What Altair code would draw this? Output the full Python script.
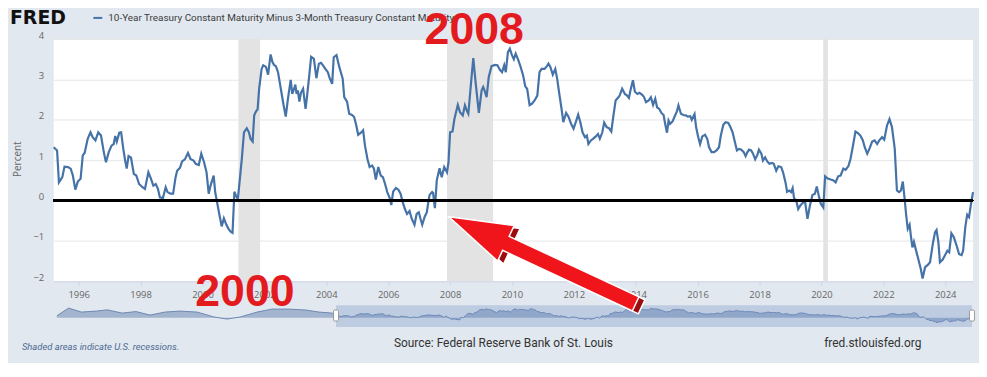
import altair as alt
import pandas as pd

# ---- main series: decimal year, 10Y minus 3M spread (percent) ----
years = [
    1995.19, 1995.30, 1995.36, 1995.47, 1995.54, 1995.65, 1995.74, 1995.81, 1995.89, 1995.97,
    1996.06, 1996.13, 1996.19, 1996.29, 1996.38, 1996.45, 1996.54, 1996.63, 1996.72, 1996.81,
    1996.88, 1996.97, 1997.06, 1997.13, 1997.18, 1997.23, 1997.31, 1997.37, 1997.44, 1997.50,
    1997.55, 1997.61, 1997.69, 1997.78, 1997.86, 1997.95, 1998.06, 1998.14, 1998.25, 1998.33,
    1998.41, 1998.49, 1998.56, 1998.62, 1998.72, 1998.81, 1998.87, 1998.96, 1999.05, 1999.13,
    1999.18, 1999.27, 1999.34, 1999.43, 1999.53, 1999.61, 1999.71, 1999.78, 1999.88, 1999.96,
    2000.05, 2000.13, 2000.20, 2000.26, 2000.36, 2000.41, 2000.47, 2000.55, 2000.62, 2000.69,
    2000.76, 2000.84, 2000.91, 2000.97, 2001.03, 2001.08, 2001.14,
    2001.16, 2001.27, 2001.34, 2001.43, 2001.50, 2001.55, 2001.62, 2001.67, 2001.73, 2001.78,
    2001.83, 2001.91, 2001.96, 2002.05, 2002.12, 2002.20, 2002.26, 2002.31, 2002.37, 2002.44,
    2002.53, 2002.62, 2002.69, 2002.76, 2002.85, 2002.90, 2002.96, 2003.00, 2003.04, 2003.08,
    2003.13, 2003.18, 2003.25, 2003.33, 2003.38, 2003.45, 2003.51, 2003.60, 2003.68, 2003.76,
    2003.83, 2003.91, 2003.97, 2004.05, 2004.11, 2004.19, 2004.24, 2004.33, 2004.42, 2004.53,
    2004.58, 2004.67, 2004.74, 2004.83, 2004.90, 2004.97, 2005.03, 2005.12, 2005.19, 2005.25,
    2005.33, 2005.40, 2005.48, 2005.54, 2005.60, 2005.68, 2005.76, 2005.83, 2005.90, 2005.97,
    2006.05, 2006.10, 2006.16, 2006.25, 2006.33, 2006.40, 2006.47, 2006.54, 2006.61, 2006.69,
    2006.76, 2006.85, 2006.92, 2006.99, 2007.04, 2007.10, 2007.18, 2007.25, 2007.30, 2007.34,
    2007.42, 2007.45, 2007.51, 2007.57, 2007.66, 2007.73, 2007.81, 2007.90, 2007.95, 2008.00,
    2008.08, 2008.14, 2008.25, 2008.32, 2008.41, 2008.48, 2008.54, 2008.59, 2008.67, 2008.75,
    2008.83, 2008.93, 2009.02, 2009.07, 2009.13, 2009.18, 2009.25, 2009.34, 2009.45, 2009.53,
    2009.61, 2009.68, 2009.75, 2009.80, 2009.87, 2009.93, 2010.00, 2010.06, 2010.12, 2010.19,
    2010.28, 2010.36, 2010.43, 2010.49, 2010.57, 2010.65, 2010.73, 2010.82, 2010.89, 2010.96,
    2011.05, 2011.13, 2011.18, 2011.24, 2011.32, 2011.40, 2011.46, 2011.53, 2011.61, 2011.66,
    2011.75, 2011.83, 2011.91, 2011.99, 2012.07, 2012.14, 2012.21, 2012.28, 2012.36, 2012.42,
    2012.47, 2012.55, 2012.62, 2012.71, 2012.78, 2012.84, 2012.92, 2012.98, 2013.06, 2013.14,
    2013.21, 2013.28, 2013.35, 2013.44,
    2013.48, 2013.56, 2013.65, 2013.72, 2013.78, 2013.83, 2013.91, 2013.97, 2014.05, 2014.12,
    2014.21, 2014.27, 2014.33, 2014.42, 2014.49, 2014.56, 2014.63, 2014.69, 2014.76, 2014.83,
    2014.90, 2014.95, 2015.01, 2015.06, 2015.11, 2015.19, 2015.25, 2015.33, 2015.38, 2015.46,
    2015.54, 2015.62, 2015.68, 2015.76, 2015.81, 2015.90, 2015.95, 2016.02, 2016.08, 2016.15,
    2016.24, 2016.31, 2016.37, 2016.45, 2016.53, 2016.61, 2016.69, 2016.75, 2016.83, 2016.90,
    2016.99, 2017.06, 2017.13, 2017.20, 2017.27, 2017.34, 2017.41, 2017.49, 2017.55, 2017.61,
    2017.66, 2017.73, 2017.79, 2017.86, 2017.93, 2017.98, 2018.06, 2018.11, 2018.18, 2018.25,
    2018.32, 2018.40, 2018.46, 2018.54, 2018.61, 2018.70, 2018.76, 2018.84, 2018.89, 2018.96,
    2019.02, 2019.07, 2019.12,
    2019.18, 2019.25, 2019.32, 2019.39, 2019.47, 2019.55, 2019.63, 2019.71, 2019.79, 2019.85,
    2019.91, 2019.98, 2020.06, 2020.12, 2020.19, 2020.30, 2020.39, 2020.46, 2020.54, 2020.62,
    2020.71, 2020.78, 2020.87, 2020.94, 2021.03, 2021.10, 2021.18, 2021.26, 2021.34, 2021.40,
    2021.48, 2021.55, 2021.64, 2021.72, 2021.80, 2021.87, 2021.96, 2022.03, 2022.12, 2022.20,
    2022.28, 2022.37, 2022.44, 2022.51, 2022.57, 2022.63, 2022.69, 2022.74, 2022.79, 2022.85,
    2022.89, 2022.94, 2022.99, 2023.06, 2023.13, 2023.21, 2023.27, 2023.35, 2023.43, 2023.51,
    2023.60, 2023.67, 2023.72, 2023.78, 2023.83, 2023.92, 2023.99, 2024.07, 2024.13, 2024.20,
    2024.28, 2024.37, 2024.45, 2024.53, 2024.58, 2024.65, 2024.71, 2024.77, 2024.85, 2024.90,
]
spread = [
    1.32, 1.24, 0.45, 0.58, 0.84, 0.83, 0.79, 0.62, 0.27, 0.47,
    0.54, 1.12, 1.18, 1.53, 1.69, 1.57, 1.49, 1.69, 1.61, 1.20,
    0.95, 1.20, 1.36, 1.40, 1.60, 1.46, 1.68, 1.69, 1.28, 0.99,
    0.79, 1.10, 1.06, 0.66, 0.62, 0.41, 0.33, 0.29, 0.70, 0.55,
    0.37, 0.41, 0.29, 0.08, 0.06, 0.33, 0.21, 0.17, 0.17, 0.58,
    0.74, 0.81, 0.97, 1.02, 1.18, 1.03, 0.99, 0.91, 0.88, 1.16,
    0.95, 0.70, 0.17, 0.37, 0.62, 0.21, -0.04, -0.37, -0.64, -0.44,
    -0.58, -0.70, -0.77, -0.80, 0.22, 0.12, 0.04,
    0.17, 1.03, 1.69, 1.79, 1.69, 1.53, 1.46, 2.11, 2.21, 2.26,
    2.77, 3.26, 3.35, 3.31, 3.12, 3.62, 3.43, 3.36, 3.33, 3.18,
    2.77, 2.36, 2.08, 2.52, 2.99, 2.64, 2.77, 2.87, 2.64, 2.73,
    2.45, 2.67, 2.77, 2.27, 2.60, 3.10, 3.56, 3.51, 3.03, 3.39,
    3.41, 3.33, 3.26, 3.18, 3.03, 2.89, 3.55, 3.60, 3.31, 3.02,
    2.56, 2.45, 2.15, 2.12, 2.07, 1.86, 1.63, 1.68, 1.74, 1.36,
    1.03, 0.83, 0.87, 0.79, 0.52, 0.83, 0.62, 0.58, 0.41, 0.21,
    0.06, -0.11, 0.22, 0.31, 0.27, 0.17, -0.04, -0.21, -0.33, -0.26,
    -0.45, -0.60, -0.33, -0.29, -0.44, -0.60, -0.40, -0.29, -0.02, 0.14,
    0.21, 0.19, -0.19, 0.50, 0.80, 0.58, 0.83, 0.70, 0.95, 1.69,
    1.71, 2.02, 2.37, 2.19, 2.11, 2.36, 2.23, 2.15, 2.85, 3.53,
    2.89, 2.17, 2.73, 2.81, 2.69, 2.56, 3.06, 3.33, 3.36, 3.35,
    3.24, 3.18, 3.35, 3.18, 3.68, 3.76, 3.60, 3.50, 3.64, 3.51,
    3.31, 3.10, 2.83, 2.77, 2.36, 2.40, 2.48, 2.60, 3.18, 3.26,
    3.26, 3.33, 3.39, 3.31, 3.12, 3.26, 3.02, 2.64, 2.23, 1.94,
    2.17, 2.07, 1.90, 1.78, 1.96, 2.13, 1.94, 1.69, 1.57, 1.61,
    1.40, 1.49, 1.53, 1.59, 1.65, 1.53, 1.69, 1.93, 1.82, 1.79,
    1.71, 2.11, 2.48, 2.56,
    2.60, 2.77, 2.64, 2.60, 2.54, 2.73, 2.98, 2.70, 2.64, 2.67,
    2.62, 2.56, 2.44, 2.48, 2.56, 2.37, 2.52, 2.31, 2.27, 2.17,
    2.12, 1.90, 1.68, 1.98, 1.90, 1.96, 2.07, 2.21, 2.36, 2.15,
    2.12, 2.11, 2.08, 2.09, 2.00, 2.14, 1.82, 1.57, 1.40, 1.59,
    1.63, 1.53, 1.32, 1.20, 1.20, 1.24, 1.32, 1.61, 1.88, 1.94,
    1.92, 1.82, 1.69, 1.46, 1.24, 1.28, 1.26, 1.20, 1.10, 1.20,
    1.26, 1.24, 1.16, 1.02, 1.13, 1.26, 1.16, 0.99, 1.07, 0.97,
    0.91, 0.93, 0.91, 0.74, 0.85, 0.83, 0.70, 0.45, 0.22, 0.25,
    0.21, 0.31, 0.04,
    0.02, -0.21, -0.12, -0.06, -0.02, -0.45, -0.12, 0.14, 0.17, 0.35,
    0.14, -0.08, -0.17, 0.60, 0.55, 0.52, 0.50, 0.45, 0.60, 0.62,
    0.79, 0.76, 0.85, 1.03, 1.40, 1.71, 1.67, 1.61, 1.49, 1.32,
    1.16, 1.28, 1.46, 1.49, 1.40, 1.49, 1.57, 1.51, 1.86, 2.02,
    1.82, 1.28, 0.25, 0.21, 0.25, 0.47, 0.04, -0.37, -0.70, -0.60,
    -0.87, -1.16, -1.02, -1.24, -1.45, -1.69, -1.93, -1.65, -1.60, -1.53,
    -1.07, -0.79, -0.73, -1.03, -1.53, -1.46, -1.36, -1.24, -1.28, -0.81,
    -0.91, -1.12, -1.33, -1.35, -1.24, -0.66, -0.35, -0.41, 0.00, 0.21,
]

# ---- navigator: earlier history (1982-1995) ----
nav_early_years = [1982.15, 1982.70, 1983.30, 1984.00, 1984.50, 1985.20, 1985.85, 1986.50,
                   1987.20, 1987.90, 1988.70, 1989.50, 1990.10, 1990.70, 1991.50, 1992.20,
                   1993.00, 1993.80, 1994.40, 1995.00]
nav_early_vals = [0.8, 3.9, 2.3, 2.7, 3.2, 1.9, 2.5, 1.1,
                  2.3, 2.7, 2.3, 0.3, -0.5, 0.3, 2.3, 3.5,
                  3.5, 3.1, 2.3, 1.9]

# ---- recessions ----
rec_start = [2001.16, 2007.90, 2020.06]
rec_end = [2001.86, 2009.39, 2020.21]

x_ticks = [1996, 1998, 2000, 2002, 2004, 2006, 2008, 2010, 2012, 2014, 2016, 2018, 2020, 2022, 2024]
y_ticks = [-2, -1, 0, 1, 2, 3, 4]

# ---- annotations ----
ann_labels = ["2000", "2008"]
ann_x = [2001.37, 2008.78]
ann_y = [-2.26, 4.22]
arrow_x = [2010.98]
arrow_y = [-1.48]
nav_range = [1995.19, 2024.90]

series_title = "10-Year Treasury Constant Maturity Minus 3-Month Treasury Constant Maturity"

W, H = 926, 244
BLUE = "#4572a7"
RED = "#e31b1f"
FONT = "Open Sans"

df = pd.DataFrame({"year": years, "value": spread})
rec = pd.DataFrame({"start": rec_start, "end": rec_end})
nav_df = pd.DataFrame({"year": nav_early_years + years, "value": nav_early_vals + spread})
ann = pd.DataFrame({"label": ann_labels, "x": ann_x, "y": ann_y})
arrow = pd.DataFrame({"x": arrow_x, "y": arrow_y})
handles = pd.DataFrame({"pos": nav_range})
mask = pd.DataFrame({"start": [nav_range[0]], "end": [nav_range[1]]})

xs = alt.Scale(domain=[1995.19, 2024.90], nice=False, zero=False)
ys = alt.Scale(domain=[-2, 4], nice=False, zero=False)

x_axis = alt.Axis(values=x_ticks, format="d", title=None, grid=False,
                  labelColor="#666666", labelFontSize=9.5, labelFont=FONT,
                  tickColor="#ccd6eb", domainColor="#ccd6eb", tickSize=4,
                  labelPadding=4)
y_axis = alt.Axis(values=y_ticks, title=None, grid=True, gridColor="#e6e6e6",
                  ticks=False, domain=False, labelColor="#666666", labelFontSize=9.5,
                  labelFont=FONT, labelPadding=10, labelOffset=-4)

rects = alt.Chart(rec).mark_rect(color="#e3e3e3").encode(
    x=alt.X("start:Q", scale=xs, axis=x_axis), x2="end:Q",
    y=alt.value(0), y2=alt.value(H))
line = alt.Chart(df).mark_line(color=BLUE, strokeWidth=2.2).encode(
    x=alt.X("year:Q", scale=xs, axis=x_axis),
    y=alt.Y("value:Q", scale=ys, axis=y_axis))
zero = alt.Chart(df).mark_rule(color="black", strokeWidth=1.5).encode(y=alt.datum(0))
main = alt.layer(rects, line, zero)

# navigator
nxs = alt.Scale(domain=[1982.0, 2024.95], nice=False, zero=False)
nys = alt.Scale(domain=[-3.3, 4.7], nice=False, zero=False, range=[289, 269])
nav_area = alt.Chart(nav_df).mark_area(color="#889ec0", line={"color": "#6f89b2", "strokeWidth": 1}).encode(
    x=alt.X("year:Q", scale=nxs, axis=None),
    y=alt.Y("value:Q", scale=nys, axis=None), y2=alt.value(289))
nav_mask = alt.Chart(mask).mark_rect(color="#6685c2", opacity=0.28).encode(
    x=alt.X("start:Q", scale=nxs, axis=None), x2="end:Q",
    y=alt.value(268), y2=alt.value(290))
nav_handles = alt.Chart(handles).mark_rect(fill="white", stroke="#999999", strokeWidth=1,
                                           xOffset=-2.5, x2Offset=2.5, cornerRadius=1).encode(
    x=alt.X("pos:Q", scale=nxs, axis=None), x2="pos:Q",
    y=alt.value(273), y2=alt.value(284))
nav = alt.layer(nav_area, nav_mask, nav_handles)

# overlay: header, footer, annotations
def txt(s, x, y, **kw):
    return alt.Chart(pd.DataFrame({"t": [s]})).mark_text(**kw).encode(
        text="t:N", x=alt.value(x), y=alt.value(y))

fred = txt("FRED", -44, -15, font="DejaVu Sans", fontSize=19, fontWeight="bold",
           color="#111111", align="left", baseline="alphabetic")
leg_line = alt.Chart(pd.DataFrame({"t": [0]})).mark_rule(color=BLUE, strokeWidth=2).encode(
    x=alt.value(40), x2=alt.value(49), y=alt.value(-21.3))
leg_text = txt(series_title, 55, -21, font="Roboto", fontSize=10, color="#3c3c3c",
               align="left", baseline="middle")
percent = txt("Percent", -36, 121, font=FONT, fontSize=10, color="#666666", angle=270,
              align="center", baseline="middle")
shaded = txt("Shaded areas indicate U.S. recessions.", -32, 310, font="Roboto", fontSize=9.5,
             fontStyle="italic", color="#4d6891", align="left", baseline="middle")
source = txt("Source: Federal Reserve Bank of St. Louis", 453, 306, font="Roboto", fontSize=12,
             color="#333333", align="center", baseline="middle")
site = txt("fred.stlouisfed.org", 825, 306, font="Roboto", fontSize=12,
           color="#333333", align="center", baseline="middle")

oxs = alt.Scale(domain=[1995.19, 2024.90], nice=False, zero=False)
oys = alt.Scale(domain=[-2, 4], nice=False, zero=False)
ann_text = alt.Chart(ann).mark_text(font="Liberation Sans", fontSize=45, fontWeight="bold",
                                    color=RED, align="center", baseline="middle").encode(
    text="label:N", x=alt.X("x:Q", scale=oxs, axis=None), y=alt.Y("y:Q", scale=oys, axis=None))

arrow_path = "M0,-1 L0.19,-0.39 L0.075,-0.39 L0.075,1 L-0.075,1 L-0.075,-0.39 L-0.19,-0.39 Z"
arrow_dark = alt.Chart(arrow).mark_point(shape=arrow_path, size=43100, angle=295, filled=True,
                                         fill="#9e0b0f", stroke="white", strokeWidth=1.5,
                                         opacity=1, xOffset=6, yOffset=3).encode(
    x=alt.X("x:Q", scale=oxs, axis=None), y=alt.Y("y:Q", scale=oys, axis=None))
arrow_red = alt.Chart(arrow).mark_point(shape=arrow_path, size=43100, angle=295, filled=True,
                                        fill="#f0141b", stroke="white", strokeWidth=1.5,
                                        opacity=1).encode(
    x=alt.X("x:Q", scale=oxs, axis=None), y=alt.Y("y:Q", scale=oys, axis=None))

overlay = alt.layer(fred, leg_line, leg_text, percent, shaded, source, site,
                    ann_text, arrow_dark, arrow_red)

chart = alt.layer(main, nav, overlay).resolve_scale(
    x="independent", y="independent"
).properties(
    width=W, height=H,
    padding={"left": 46, "top": 30, "right": 6, "bottom": 81},
    autosize=alt.AutoSizeParams(type="none"),
    background="#e1e8ef",
).configure_view(fill="white", strokeWidth=0)

chart.save("out.html", embed_options={"renderer": "svg", "actions": False})
